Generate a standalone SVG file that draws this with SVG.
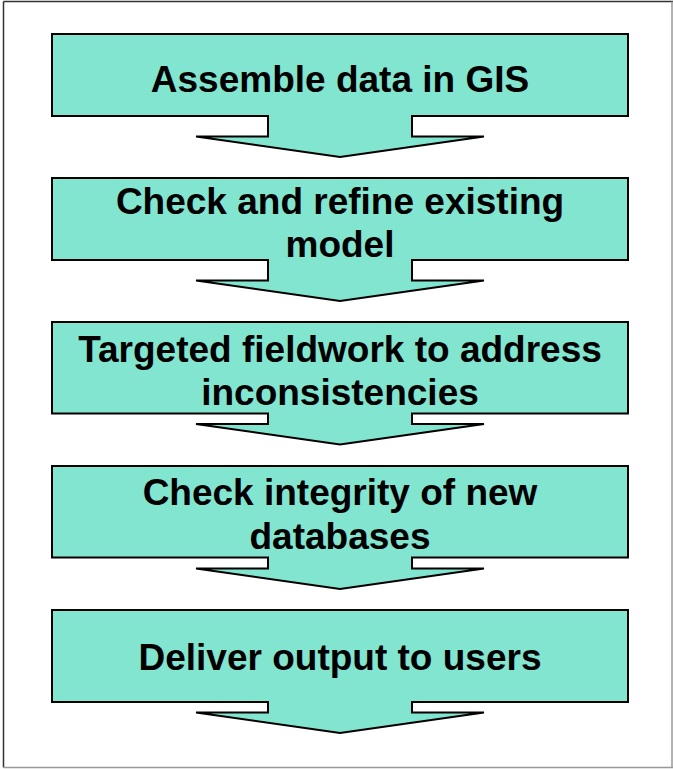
<svg xmlns="http://www.w3.org/2000/svg" width="673" height="769" viewBox="0 0 673 769">
  <style>
    .step { fill: #82E5CF; stroke: #000; stroke-width: 2; stroke-linejoin: miter; }
    .label { font-family: "Liberation Sans", Arial, sans-serif; font-weight: bold; font-size: 37px; fill: #000; text-anchor: middle; }
  </style>
  <rect x="0" y="0" width="673" height="769" fill="#fff"/>
  <!-- frame -->
  <g id="frame" fill="none">
    <line x1="3.5" y1="1.5" x2="673" y2="1.5" stroke="#333" stroke-width="1.5"/>
    <line x1="3.5" y1="1.5" x2="3.5" y2="767.5" stroke="#333" stroke-width="1.5"/>
    <line x1="3.5" y1="767.5" x2="673" y2="767.5" stroke="#999" stroke-width="1.5"/>
    <line x1="672" y1="1.5" x2="672" y2="767.5" stroke="#999" stroke-width="1.5"/>
  </g>

  <!-- each step: box with a down-arrow callout -->
  <g id="step1">
    <path class="step" d="M52,34 H628 V116 H412 V136.5 H484 L340,157 L196,136.5 H268 V116 H52 Z"/>
    <text class="label" x="340" y="92">Assemble data in GIS</text>
  </g>
  <g id="step2">
    <path class="step" d="M52,178 H628 V260 H412 V280.5 H484 L340,301 L196,280.5 H268 V260 H52 Z"/>
    <text class="label" x="340" y="214">Check and refine existing</text>
    <text class="label" x="340" y="257">model</text>
  </g>
  <g id="step3">
    <path class="step" d="M52,322 H628 V413.5 H412 V424 H484 L340,444.5 L196,424 H268 V413.5 H52 Z"/>
    <text class="label" x="340" y="362">Targeted fieldwork to address</text>
    <text class="label" x="340" y="405">inconsistencies</text>
  </g>
  <g id="step4">
    <path class="step" d="M52,466 H628 V557.5 H412 V568.5 H484 L340,589 L196,568.5 H268 V557.5 H52 Z"/>
    <text class="label" x="340" y="505">Check integrity of new</text>
    <text class="label" x="340" y="549">databases</text>
  </g>
  <g id="step5">
    <path class="step" d="M52,610 H628 V702 H412 V712.5 H484 L340,733 L196,712.5 H268 V702 H52 Z"/>
    <text class="label" x="340" y="670">Deliver output to users</text>
  </g>
  <g id="connectors"/>
</svg>
